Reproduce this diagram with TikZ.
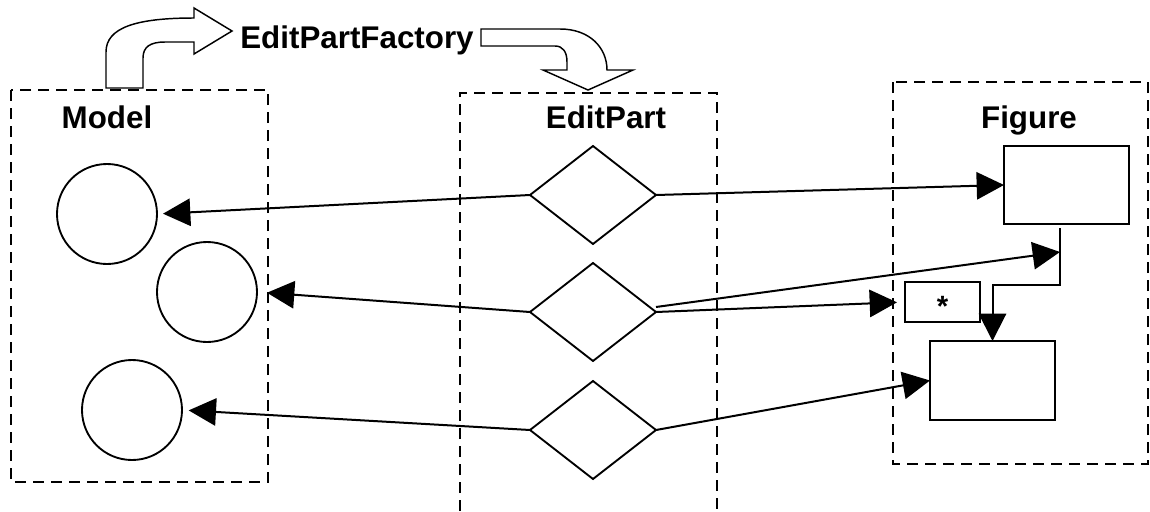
\documentclass[tikz,border=0pt]{standalone}
\usepackage{fontspec}
\setmainfont{Liberation Sans}
\usetikzlibrary{arrows.meta,shapes.geometric}

\begin{document}
\begin{tikzpicture}[x=0.75pt,y=-0.75pt,
  every node/.style={inner sep=0pt, outer sep=0pt},
  frame/.style={line width=1.5pt, dash pattern=on 8.25pt off 5.25pt},
  title/.style={font=\bfseries\fontsize{23.5pt}{28pt}\selectfont, anchor=base},
  obj/.style={draw, line width=1.4pt, circle, minimum size=75pt},
  part/.style={draw, line width=1.4pt, diamond, minimum width=94.5pt, minimum height=73.5pt},
  fig/.style={draw, line width=1.5pt, rectangle, minimum width=93.75pt, minimum height=58.5pt},
  starbox/.style={draw, line width=1.5pt, rectangle, minimum width=56.25pt, minimum height=30pt,
    text height=22pt, text depth=0pt, font=\bfseries\fontsize{22pt}{24pt}\selectfont},
  link/.style={line width=1.5pt, -{Triangle[length=20.5pt,width=20.5pt]}},
  bent/.style={draw, line width=1.1pt, fill=white, line join=miter}
]
\useasboundingbox (0,0) rectangle (1150,511);

% containers
\draw[frame] (11,90) rectangle (268,482);
\draw[frame] (460,511) -- (460,93) -- (717,93) -- (717,511);
\draw[frame] (893,82) rectangle (1148,464);

% titles
\node[title] (tmodel) at (107,128) {Model};
\node[title] (tpart) at (606,128) {EditPart};
\node[title] (tfig) at (1029,128) {Figure};
\node[title] (tfactory) at (357,48) {EditPartFactory};

% bent block arrows around the factory
\path[bent] (106,88) -- (106,52) .. controls (106,28) and (135,18) .. (194,18)
  -- (194,8) -- (232,31) -- (194,54) -- (194,42) -- (165,42)
  .. controls (150,42) and (143,47) .. (143,58) -- (143,88) -- cycle;
\path[bent] (481,29) -- (560,29) .. controls (590,29) and (607,48) .. (607,70)
  -- (633,70) -- (588,90) -- (543,70) -- (567,70) -- (567,62)
  .. controls (567,52) and (563,46) .. (555,46) -- (481,46) -- cycle;

% model objects
\node[obj] (c1) at (107,214) {};
\node[obj] (c2) at (207,292) {};
\node[obj] (c3) at (132,410) {};

% edit parts
\node[part] (d1) at (593,195) {};
\node[part] (d2) at (593,312) {};
\node[part] (d3) at (593,430) {};

% figures
\node[fig] (r1) at (1066.5,185) {};
\node[fig, minimum height=59.25pt] (r2) at (992.5,380.5) {};
\node[starbox] (star) at (942.5,302) {*};

% joints of the child connector
\coordinate (j1) at (1060,228);
\coordinate (j2) at (1060,285);
\coordinate (hit) at (1060,252);

% connectors
\draw[link, shorten >=4.5pt] (d1.west) -- (c1.east);
\draw[link, shorten >=7.5pt] (d2.west) -- (c2.east);
\draw[link, shorten >=5pt] (d3.west) -- (c3.east);
\draw[link] (d1.east) -- (r1.west);
\draw[link] ([yshift=3.75pt]d2.east) -- (hit);
\draw[link, shorten >=6pt] (d2.east) -- (star.west);
\draw[link] (d3.east) -- (r2.west);
\draw[link] (j1) -- (j2) -| (r2.north);
\end{tikzpicture}
\end{document}
